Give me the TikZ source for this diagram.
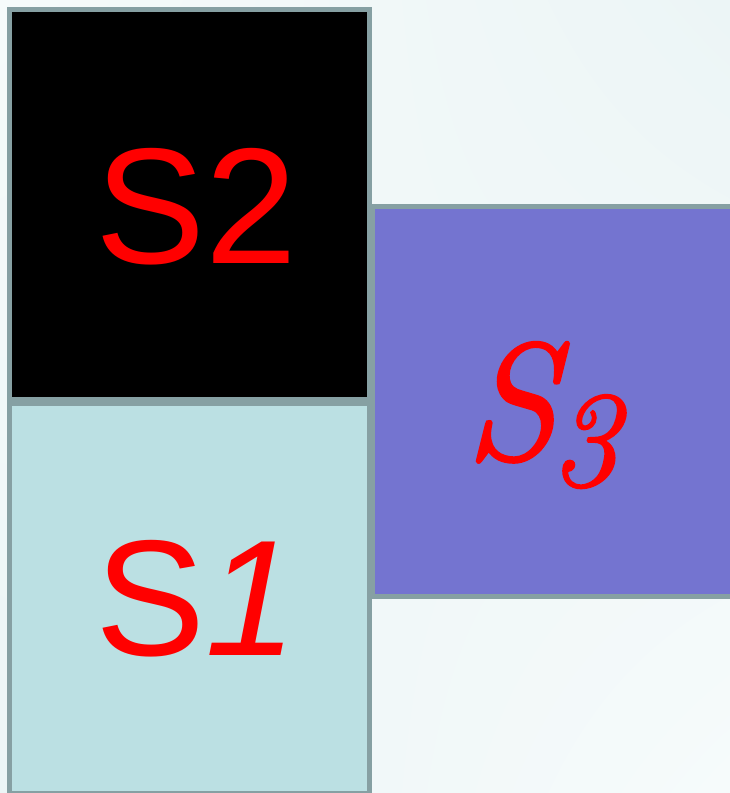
\documentclass[tikz,border=0pt]{standalone}
\usepackage{fontspec}
\usetikzlibrary{shadings}
\newfontfamily\sansf{Liberation Sans}
\newfontfamily\serifit[Numbers=OldStyle,FakeBold=1.6]{Latin Modern Roman}
\definecolor{bordc}{RGB}{134,160,163}
\definecolor{purp}{RGB}{116,116,208}
\definecolor{lcyan}{RGB}{187,224,227}
\definecolor{bgA}{RGB}{246,251,251}
\definecolor{bgB}{RGB}{236,245,246}
\tikzset{
  sq/.style={draw=bordc, line width=5pt},
  lbl/.style={text=red, inner sep=0pt, anchor=base west}
}
\begin{document}
\begin{tikzpicture}[x=1pt,y=-1pt]
\useasboundingbox (0,0) rectangle (730,793);
\shade[upper left=bgA, upper right=bgB, lower left=bgB, lower right=bgA] (0,0) rectangle (730,793);
\draw[sq, fill=black] (9.5,9.5) rectangle (369.5,399.5);
\draw[sq, fill=lcyan] (9.5,403) rectangle (369.5,793);
\draw[sq, fill=purp] (372.5,206.5) rectangle (735,596.5);
\node[lbl] (s2) at (95.5,263.3) {\fontsize{165}{165}\sansf S2};
\node[lbl] (s1) at (95.5,655.7) {\fontsize{165}{165}\sansf S\itshape 1};
\node[lbl] (s3) at (465,459) {\serifit\itshape\fontsize{166}{166}\selectfont S\fontsize{136}{136}\selectfont 3};
\end{tikzpicture}
\end{document}
